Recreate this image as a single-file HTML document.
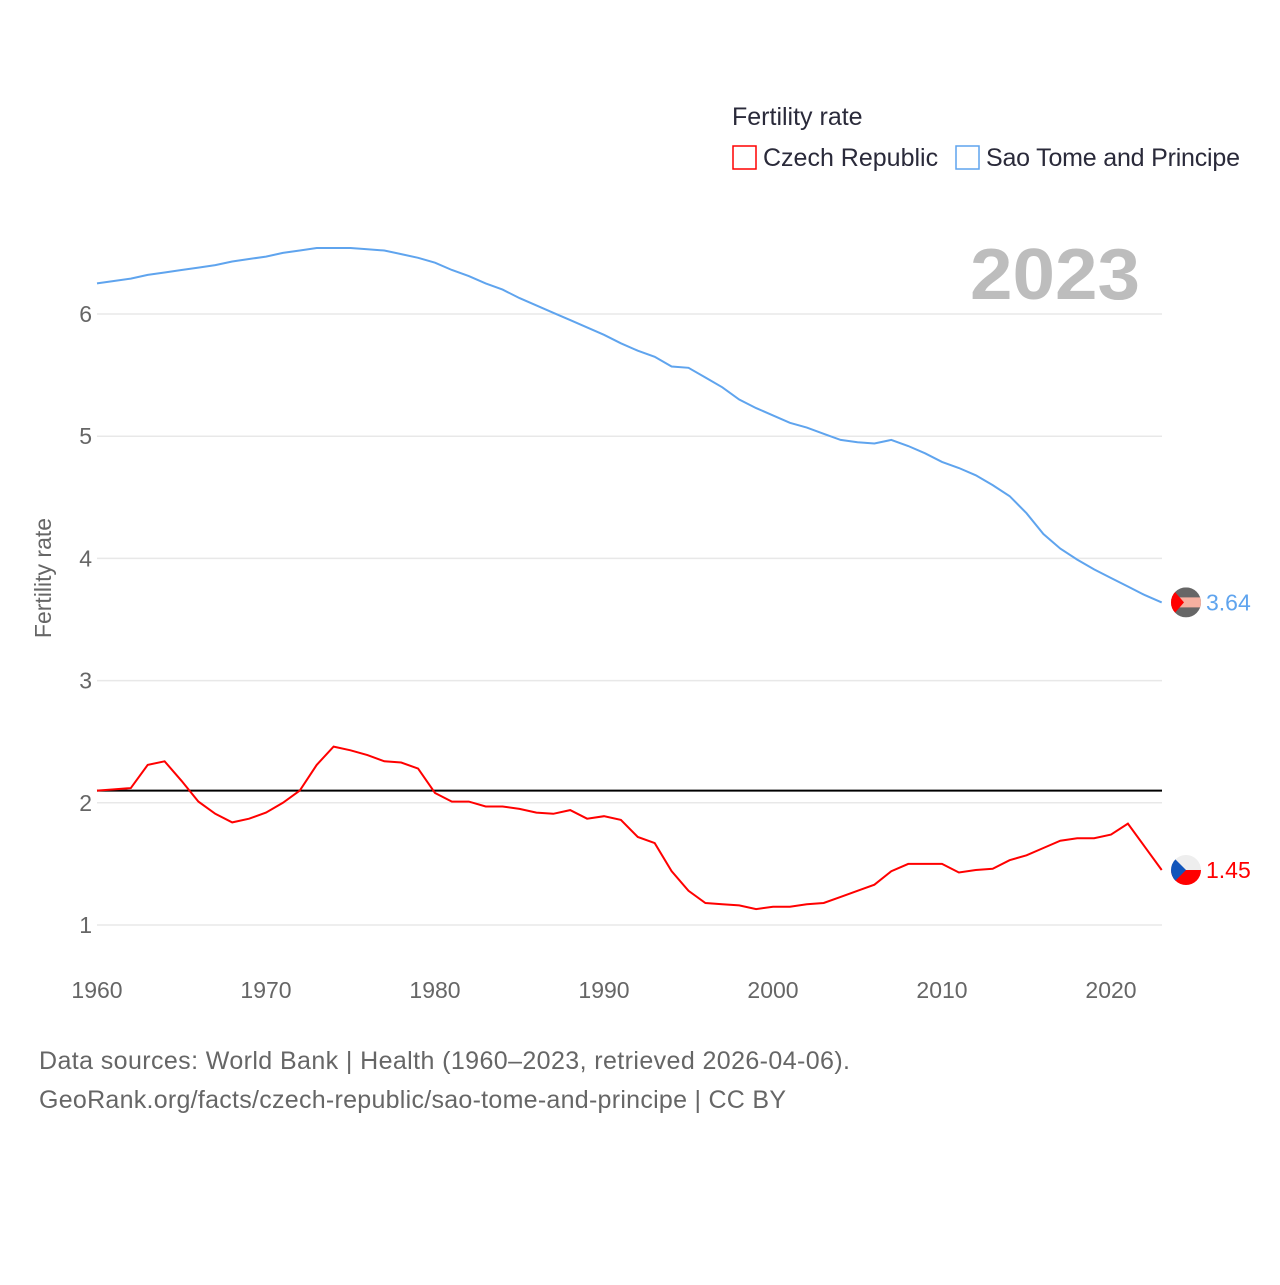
<!DOCTYPE html>
<html><head><meta charset="utf-8"><style>
body{margin:0;background:#fff;width:1280px;height:1280px;overflow:hidden;font-family:"Liberation Sans",sans-serif}
</style></head><body>
<svg id="chart" width="1280" height="1280" xmlns="http://www.w3.org/2000/svg">
<g id="grid"></g><g id="lines"></g>
<text x="732" y="125" font-size="25" fill="#2a2a3a">Fertility rate</text>
<rect x="733" y="146" width="23" height="23" fill="none" stroke="#f00" stroke-width="1.5"/>
<text x="763" y="166" font-size="25" fill="#2a2a3a">Czech Republic</text>
<rect x="956" y="146" width="23" height="23" fill="none" stroke="#5fa4ee" stroke-width="1.5"/>
<text x="986" y="166" font-size="25" fill="#2a2a3a" textLength="254">Sao Tome and Principe</text>
<text x="970" y="299" font-size="72" font-weight="bold" fill="#bdbdbd" textLength="170" lengthAdjust="spacingAndGlyphs">2023</text>
<text transform="translate(51,578) rotate(-90)" font-size="23" fill="#666" text-anchor="middle">Fertility rate</text>
<text x="39" y="1069" font-size="25" fill="#666" textLength="811">Data sources: World Bank | Health (1960–2023, retrieved 2026-04-06).</text>
<text x="39" y="1108" font-size="25" fill="#666" textLength="747">GeoRank.org/facts/czech-republic/sao-tome-and-principe | CC BY</text>
</svg>
<script>
const years=[];for(let y=1960;y<=2023;y++)years.push(y);
const saoTome=[6.25,6.27,6.29,6.32,6.34,6.36,6.38,6.40,6.43,6.45,6.47,6.50,6.52,6.54,6.54,6.54,6.53,6.52,6.49,6.46,6.42,6.36,6.31,6.25,6.20,6.13,6.07,6.01,5.95,5.89,5.83,5.76,5.70,5.65,5.57,5.56,5.48,5.40,5.30,5.23,5.17,5.11,5.07,5.02,4.97,4.95,4.94,4.97,4.92,4.86,4.79,4.74,4.68,4.60,4.51,4.37,4.20,4.08,3.99,3.91,3.84,3.77,3.70,3.64];
const czech=[2.10,2.11,2.12,2.31,2.34,2.18,2.01,1.91,1.84,1.87,1.92,2.00,2.10,2.31,2.46,2.43,2.39,2.34,2.33,2.28,2.08,2.01,2.01,1.97,1.97,1.95,1.92,1.91,1.94,1.87,1.89,1.86,1.72,1.67,1.44,1.28,1.18,1.17,1.16,1.13,1.15,1.15,1.17,1.18,1.23,1.28,1.33,1.44,1.50,1.50,1.50,1.43,1.45,1.46,1.53,1.57,1.63,1.69,1.71,1.71,1.74,1.83,1.64,1.45];
const yTicks=[1,2,3,4,5,6];
const xTicks=[1960,1970,1980,1990,2000,2010,2020];
const replacement=2.1;
const NS="http://www.w3.org/2000/svg";
const X=y=>97+(y-1960)*(1014/60);
const Y=v=>925-(v-1)*122.2;
const grid=document.getElementById('grid'),lines=document.getElementById('lines');
function mk(tag,at,parent){const e=document.createElementNS(NS,tag);for(const k in at)e.setAttribute(k,at[k]);parent.appendChild(e);return e;}
yTicks.forEach(t=>{
 const l=mk('line',{x1:97,x2:1162,y1:Y(t),y2:Y(t),stroke:'#e8e8e8','stroke-width':1.5},grid);
 
 
 const tx=mk('text',{x:92,y:Y(t)+8,'font-size':23,fill:'#666','text-anchor':'end'},grid);tx.textContent=t;
 
 
});
xTicks.forEach(t=>{
 const tx=mk('text',{x:X(t),y:998,'font-size':23,fill:'#666','text-anchor':'middle'},grid);tx.textContent=t;
 
 
});
const rl=mk('line',{x1:97,x2:1162,y1:Y(replacement),y2:Y(replacement),stroke:'#000','stroke-width':2},lines);


function series(vals,color,name){
 const p=mk('path',{d:vals.map((v,i)=>(i?'L':'M')+X(years[i]).toFixed(1)+','+Y(v).toFixed(1)).join(''),fill:'none',stroke:color,'stroke-width':2},lines);
 
 
 const last=vals[vals.length-1];
 const t=mk('text',{x:1206,y:Y(last)+8,'font-size':23,fill:color},lines);t.textContent=last.toFixed(2);
 
 
}
series(saoTome,'#5fa4ee','sao-tome');
series(czech,'#f00','czech');
const cy1=Y(3.64),cy2=Y(1.45),cx=1186;
const f1=mk('g',{},lines);


mk('clipPath',{id:'c1'},f1);mk('circle',{cx:cx,cy:cy1,r:15},f1.firstChild);
const g1=mk('g',{'clip-path':'url(#c1)'},f1);
mk('rect',{x:cx-15,y:cy1-15,width:30,height:30,fill:'#666'},g1);
mk('rect',{x:cx-15,y:cy1-5,width:30,height:10,fill:'#f5b0a0'},g1);
mk('polygon',{points:`${cx-15},${cy1-15} ${cx-2},${cy1} ${cx-15},${cy1+15}`,fill:'#f00'},g1);
const f2=mk('g',{},lines);


mk('clipPath',{id:'c2'},f2);mk('circle',{cx:cx,cy:cy2,r:15},f2.firstChild);
const g2=mk('g',{'clip-path':'url(#c2)'},f2);
mk('rect',{x:cx-15,y:cy2-15,width:30,height:15,fill:'#eee'},g2);
mk('rect',{x:cx-15,y:cy2,width:30,height:15,fill:'#f00'},g2);
mk('polygon',{points:`${cx-15},${cy2-15} ${cx},${cy2} ${cx-15},${cy2+15}`,fill:'#1155bb'},g2);
</script>
</body></html>
